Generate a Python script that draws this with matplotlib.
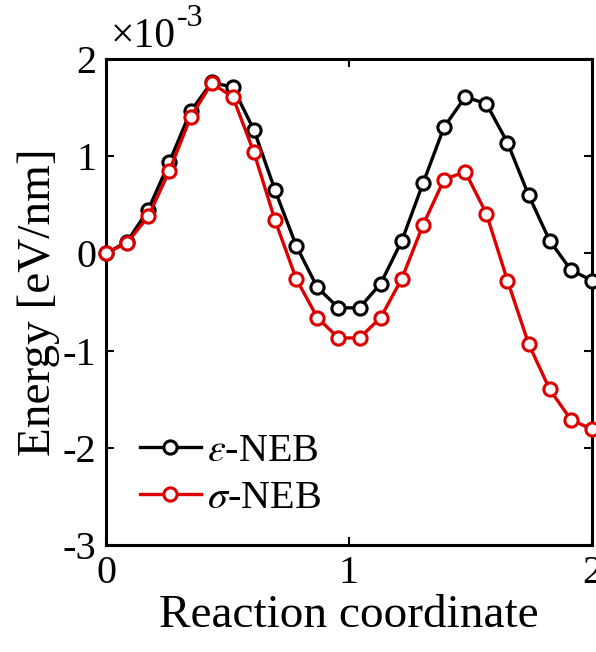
import numpy as np
import matplotlib
matplotlib.use("Agg")
import matplotlib.pyplot as plt

plt.rcParams['font.family'] = ['Liberation Serif', 'DejaVu Serif']
plt.rcParams['mathtext.fontset'] = 'stix'

# Reaction coordinate (24 images)
x_coord = np.linspace(0, 2, 24)

# Energies in units of 1e-3 eV/nm
eps_neb = [0.0, 0.12, 0.45, 0.94, 1.46, 1.76, 1.71, 1.27, 0.65, 0.08, -0.35, -0.56,
           -0.56, -0.31, 0.13, 0.72, 1.30, 1.61, 1.54, 1.14, 0.60, 0.13, -0.17, -0.28]
sig_neb = [0.0, 0.11, 0.38, 0.85, 1.40, 1.75, 1.61, 1.04, 0.34, -0.26, -0.66, -0.87,
           -0.87, -0.66, -0.26, 0.29, 0.76, 0.84, 0.41, -0.28, -0.93, -1.40, -1.71, -1.81]

x_ticks = [0, 1, 2]
y_ticks = [-3, -2, -1, 0, 1, 2]

fig = plt.figure(figsize=(5.96, 6.52), dpi=100)
ax = fig.add_axes([106/596, 1-545/652, 486/596, 486/652])

red = '#dd0000'
ax.plot(x_coord, eps_neb, color='black', lw=2.4, marker='o', ms=9.5, mfc='white',
        mec='black', mew=2.2, label=r'$\varepsilon$-NEB', clip_on=False, zorder=3)
ax.plot(x_coord, sig_neb, color=red, lw=2.4, marker='o', ms=9.5, mfc='white',
        mec=red, mew=2.2, label=r'$\sigma$-NEB', clip_on=False, zorder=4)

ax.set_xlim(0, 2)
ax.set_ylim(-3, 2)
ax.set_xticks(x_ticks)
ax.set_yticks(y_ticks)
ax.set_xticklabels([str(t) for t in x_ticks])
ax.set_yticklabels([str(t) for t in y_ticks])
ax.tick_params(direction='in', top=True, right=True, length=6, width=1.5,
               labelsize=29, pad=7)
for s in ax.spines.values():
    s.set_linewidth(2.2)

ax.set_xlabel('Reaction coordinate', fontsize=34, labelpad=2)
ax.set_ylabel('Energy [eV/nm]', fontsize=34, labelpad=2)

fig.text(111/596, 1-37/652, '×10', fontsize=30, ha='left', va='center')
fig.text(177/596, 1-19/652, '-3', fontsize=23, ha='left', va='center')

leg = ax.legend(loc='lower left', bbox_to_anchor=(0.037, 0.024), frameon=False,
                fontsize=29, handlelength=1.5, handletextpad=0.15, labelspacing=0.25,
                borderaxespad=0)

fig.savefig('out.png', dpi=100)
